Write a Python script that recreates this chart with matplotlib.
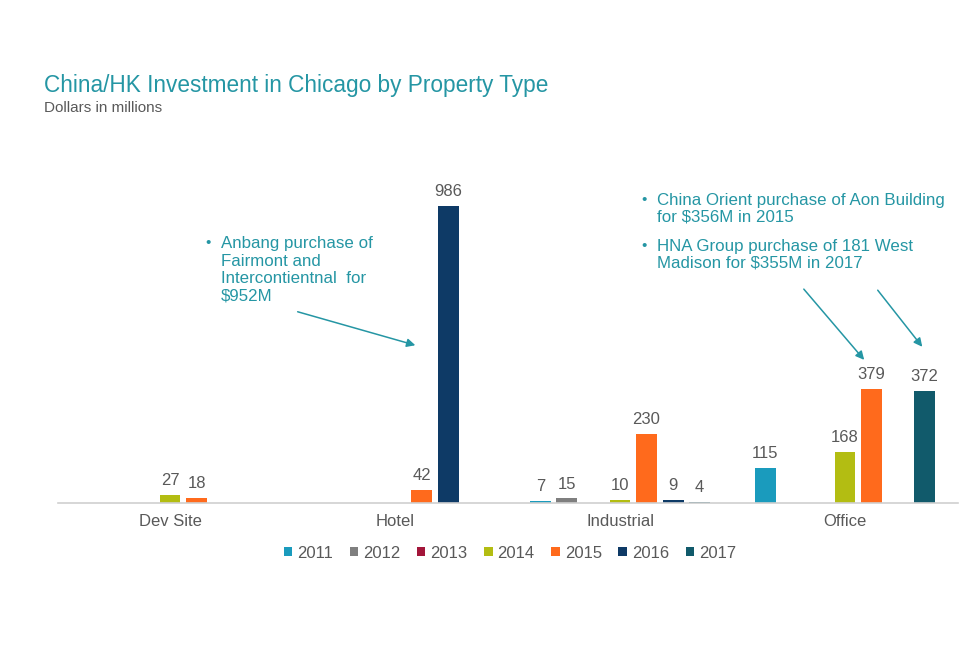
import matplotlib.pyplot as plt
import numpy as np

plt.rcParams['font.family'] = ['Liberation Sans', 'DejaVu Sans']

# Data (dollars in millions), NaN = no investment that year
categories = ['Dev Site', 'Hotel', 'Industrial', 'Office']
years = ['2011', '2012', '2013', '2014', '2015', '2016', '2017']
values = {
    '2011': [np.nan, np.nan, 7, 115],
    '2012': [np.nan, np.nan, 15, np.nan],
    '2013': [np.nan, np.nan, np.nan, np.nan],
    '2014': [27, np.nan, 10, 168],
    '2015': [18, 42, 230, 379],
    '2016': [np.nan, 986, 9, np.nan],
    '2017': [np.nan, np.nan, 4, 372],
}
colors = ['#1a9bbd', '#7f7f7f', '#a3163a', '#b3bd12', '#ff6a1c', '#0e3a66', '#115a6b']

W, H = 960, 656
teal = '#2596a4'
grey = '#595959'

fig = plt.figure(figsize=(W / 100, H / 100), dpi=100)
ax = fig.add_axes([57.5 / W, (H - 503) / H, 900 / W, 313 / H])

x = np.arange(len(categories))
step = 0.118
width = 0.093
for i, yr in enumerate(years):
    vals = np.array(values[yr], dtype=float)
    bars = ax.bar(x + (i - 3) * step, np.nan_to_num(vals), width,
                  color=colors[i], label=yr)
    labels = ['' if np.isnan(v) else f'{int(v)}' for v in vals]
    ax.bar_label(bars, labels=labels, padding=5, fontsize=12, color=grey)

ax.set_xlim(-0.5, len(categories) - 0.5)
ax.set_ylim(0, 1040)
ax.set_xticks(x)
ax.set_xticklabels(categories, fontsize=12, color=grey)
ax.tick_params(axis='x', length=0, pad=8)
ax.set_yticks([])
for side in ['top', 'right', 'left']:
    ax.spines[side].set_visible(False)
ax.spines['bottom'].set_color('#d0d0d0')
ax.spines['bottom'].set_linewidth(1.2)

# Titles
fig.text(44 / W, 1 - 85.5 / H, 'China/HK Investment in Chicago by Property Type',
         fontsize=16.3, color=teal, va='center', ha='left')
fig.text(44 / W, 1 - 107.5 / H, 'Dollars in millions',
         fontsize=11, color=grey, va='center', ha='left')

# Legend
leg = fig.legend(loc='center', bbox_to_anchor=(510 / W, 1 - 553 / H), ncol=7,
                 frameon=False, fontsize=12, handlelength=0.5, handleheight=0.5,
                 handletextpad=0.3, columnspacing=1.0)
for t in leg.get_texts():
    t.set_color(grey)


def fp(px, py):
    return (px / W, 1 - py / H)


# Annotations
fig.text(*fp(205, 243), '•', fontsize=11, color=teal, va='center')
fig.text(*fp(221, 236), 'Anbang purchase of\nFairmont and\nIntercontientnal  for\n$952M',
         fontsize=12.2, color=teal, va='top', ha='left', linespacing=1.21)

fig.text(*fp(641, 200), '•', fontsize=11, color=teal, va='center')
fig.text(*fp(657, 193), 'China Orient purchase of Aon Building\nfor $356M in 2015',
         fontsize=12.2, color=teal, va='top', ha='left', linespacing=1.16)
fig.text(*fp(641, 246), '•', fontsize=11, color=teal, va='center')
fig.text(*fp(657, 239), 'HNA Group purchase of 181 West\nMadison for $355M in 2017',
         fontsize=12.2, color=teal, va='top', ha='left', linespacing=1.16)

arrows = [((295, 311), (418, 346)), ((802, 287), (866, 362)), ((876, 288), (924, 349))]
for start, end in arrows:
    fig.add_artist(plt.matplotlib.patches.FancyArrowPatch(
        fp(*start), fp(*end), transform=fig.transFigure,
        arrowstyle='-|>,head_length=5,head_width=2.5', color=teal, linewidth=1.1))

fig.savefig('out.png', dpi=100, facecolor='white')
